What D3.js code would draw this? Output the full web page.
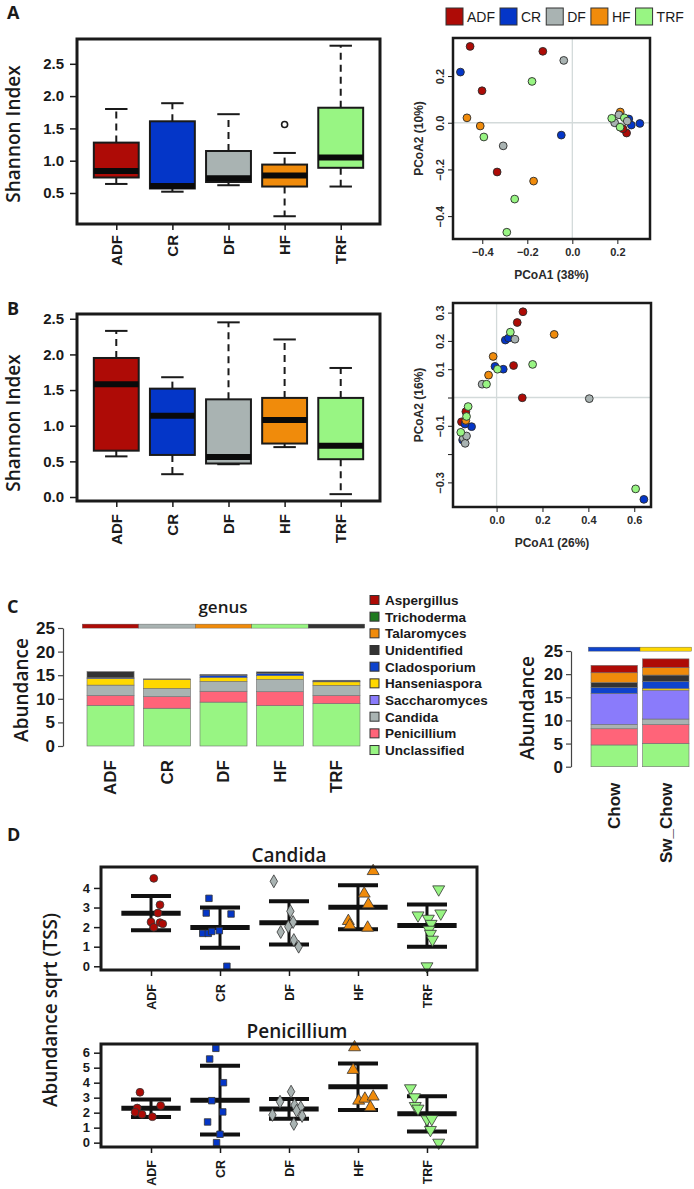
<!DOCTYPE html>
<html><head><meta charset="utf-8">
<script src="https://cdn.jsdelivr.net/npm/d3@7"></script>
<style>body{margin:0;background:#fff}svg{display:block}</style>
</head><body>
<svg id="chart" width="694" height="1189"></svg>
<script>
// ================= DATA =================
const groups = ["ADF","CR","DF","HF","TRF"];
const groupColors = ["#AE0B06","#0436C8","#A9B3B2","#F08B0B","#98F583"];

// Panel A – Shannon index (boxplot stats)
const shannonA_lower  = [0.64,0.52,0.62,0.14,0.60];
const shannonA_q1     = [0.74,0.57,0.67,0.60,0.89];
const shannonA_median = [0.84,0.61,0.73,0.77,1.05];
const shannonA_q3     = [1.28,1.61,1.15,0.94,1.82];
const shannonA_upper  = [1.80,1.89,1.72,1.12,2.78];
const shannonA_outliers = [[],[],[],[1.56],[]];
const shannonA_ticks = [0.5,1.0,1.5,2.0,2.5];

// Panel B – Shannon index
const shannonB_lower  = [0.57,0.32,0.46,0.70,0.04];
const shannonB_q1     = [0.65,0.59,0.47,0.75,0.53];
const shannonB_median = [1.58,1.14,0.56,1.08,0.72];
const shannonB_q3     = [1.95,1.52,1.37,1.39,1.39];
const shannonB_upper  = [2.33,1.68,2.45,2.21,1.81];
const shannonB_outliers = [[],[],[],[],[]];
const shannonB_ticks = [0.0,0.5,1.0,1.5,2.0,2.5];

// Panel A – PCoA (group index, PCoA1, PCoA2)
const pcoaA_group = [0,0,0,0,1,1,2,2,3,3,3,4,4,4,4, 3,2,1,1,1,0,0,2,4,4,2,4];
const pcoaA_x = [-0.454,-0.131,-0.401,-0.334,-0.497,-0.049,-0.038,-0.307,-0.468,-0.409,-0.172,-0.179,-0.393,-0.256,-0.291,
                  0.213,0.207,0.251,0.262,0.300,0.241,0.225,0.188,0.175,0.231,0.244,0.212];
const pcoaA_y = [0.327,0.306,0.137,-0.211,0.217,-0.053,0.267,-0.099,0.021,-0.014,-0.250,0.177,-0.061,-0.327,-0.469,
                  0.046,0.034,0.016,-0.010,-0.003,-0.044,-0.026,0.000,0.019,0.021,0.007,-0.019];
const pcoaA_xTicks = [-0.4,-0.2,0.0,0.2];
const pcoaA_yTicks = [-0.4,-0.2,0.0,0.2];

// Panel B – PCoA
const pcoaB_group = [0,0,0,0,0,0, 1,1,1,1,1,1,1,1, 2,2,2,2,2,2, 3,3,3,3, 4,4,4,4,4,4,4,4];
const pcoaB_x = [0.115,0.090,0.074,0.112,-0.134,-0.153,
                 0.038,0.052,-0.007,0.029,-0.109,-0.138,-0.148,0.642,
                 0.080,-0.063,0.404,-0.145,-0.137,-0.131,
                 0.251,-0.015,-0.035,-0.134,
                 0.060,0.004,-0.044,0.157,-0.124,-0.131,-0.156,0.606];
const pcoaB_y = [0.303,0.265,0.113,-0.001,-0.050,-0.086,
                 0.203,0.210,0.110,0.100,-0.103,-0.094,-0.150,-0.360,
                 0.206,0.047,-0.004,-0.144,-0.162,-0.136,
                 0.223,0.145,0.079,-0.081,
                 0.231,0.100,0.047,0.117,-0.032,-0.067,-0.123,-0.323];
const pcoaB_xTicks = [0.0,0.2,0.4,0.6];
const pcoaB_yTicks = [-0.3,-0.2,-0.1,0.0,0.1,0.2,0.3];
const pcoaB_yLabelled = [-0.3,-0.1,0.1,0.2,0.3];

// Panel C – genus abundance (legend order, top to bottom)
const genusNames  = ["Aspergillus","Trichoderma","Talaromyces","Unidentified","Cladosporium","Hanseniaspora","Saccharomyces","Candida","Penicillium","Unclassified"];
const genusColors = ["#AE0B06","#1F7A1F","#F08B0B","#333333","#0E43CC","#FFD800","#8A7BFB","#A9B3B2","#FF6479","#98F583"];
const dietSamples = ["ADF","CR","DF","HF","TRF"];
const dietAbundance = [
  [0,0,0,0,0],            // Aspergillus
  [0,0,0,0,0],            // Trichoderma
  [0,0,0,0,0],            // Talaromyces
  [1.3,0.1,0.2,0.3,0.3],  // Unidentified
  [0.15,0.02,0.45,0.5,0.03], // Cladosporium
  [1.4,1.9,0.8,0.8,0.75], // Hanseniaspora
  [0,0,0,0,0],            // Saccharomyces
  [2.2,1.75,2.1,2.6,2.15],// Candida
  [2.1,2.45,2.3,2.95,1.7],// Penicillium
  [8.6,8.0,9.3,8.55,9.0]  // Unclassified
];
const dietHeaderColors = ["#AE0B06","#A9B3B2","#F08B0B","#98F583","#333333"];
const chowSamples = ["Chow","Sw_Chow"];
const chowAbundance = [
  [1.6,1.9],   // Aspergillus
  [0,0],       // Trichoderma
  [2.1,1.6],   // Talaromyces
  [1.05,1.35], // Unidentified
  [1.3,1.55],  // Cladosporium
  [0,0.35],    // Hanseniaspora
  [6.7,6.25],  // Saccharomyces
  [0.95,1.2],  // Candida
  [3.5,4.05],  // Penicillium
  [4.7,5.05]   // Unclassified
];
const chowHeaderColors = ["#0E43CC","#FFD800"];
const abundanceTicks = [0,5,10,15,20,25];

// Panel D – sqrt(TSS) abundance per mouse, with jitter (fraction of category spacing)
const candidaValues = [
  [4.49,3.14,2.72,2.26,2.23,2.17,1.99],
  [3.47,2.72,2.67,1.68,1.68,1.78,1.82,0.0],
  [4.34,2.81,2.26,2.02,1.75,1.34,1.00],
  [4.86,3.71,3.16,2.31,2.09,1.97],
  [3.93,2.60,2.70,2.43,2.17,1.87,1.66,1.36,0.0]
];
const candidaJitter = [
  [0.04,0.13,0.10,0.0,0.13,0.17,0.04],
  [-0.16,-0.20,0.16,-0.25,-0.17,-0.12,-0.01,0.10],
  [-0.22,0.02,0.06,-0.01,-0.12,0.07,0.14],
  [0.22,0.09,0.15,-0.14,-0.12,0.14],
  [0.17,-0.13,0.20,0.02,0.06,0.03,0.05,0.08,0.0]
];
const penicilliumValues = [
  [3.36,2.47,2.31,2.03,1.89,1.73],
  [6.29,5.58,4.00,2.80,2.05,1.38,0.56,0.0],
  [3.40,2.73,2.51,2.36,2.13,1.85,1.78,1.25],
  [6.36,4.85,2.80,2.93,3.07,2.36],
  [3.63,3.03,2.45,2.27,1.56,1.58,0.85,0.0]
];
const penicilliumJitter = [
  [-0.16,0.14,-0.20,-0.23,-0.13,0.02],
  [-0.06,-0.15,0.05,-0.12,0.04,-0.18,0.0,-0.05],
  [0.03,-0.13,0.08,0.17,0.11,-0.24,0.19,0.07],
  [-0.05,-0.07,0.01,0.10,0.22,0.18],
  [-0.24,-0.18,-0.17,-0.13,0.0,0.07,0.05,0.17]
];
const candidaTicks = [0,1,2,3,4];
const penicilliumTicks = [0,1,2,3,4,5,6];

// ================= DRAWING =================
const svg = d3.select("#chart");
svg.append("rect").attr("width",694).attr("height",1189).attr("fill","#fff");
const FT = "'Liberation Sans', Arial, Helvetica, sans-serif";
const FO = "'Open Sans', 'DejaVu Sans', sans-serif";
const INK = "#1a1a1a";

function text(s, x, y, size, weight, family, anchor, rot, fill) {
  const t = svg.append("text").text(s)
    .attr("font-size", size).attr("font-weight", weight).attr("font-family", family)
    .attr("text-anchor", anchor || "start").attr("fill", fill || INK);
  if (rot) t.attr("transform", `translate(${x},${y}) rotate(${rot})`).attr("dy","0.35em");
  else t.attr("x", x).attr("y", y);
  return t;
}
function styleAxis(a, size, weight, fill, keepDomain) {
  if (!keepDomain) a.select(".domain").remove();
  a.selectAll(".tick line").attr("stroke", INK).attr("stroke-width", 1.5);
  a.selectAll("text").attr("font-family", FT).attr("font-size", size)
    .attr("font-weight", weight).attr("fill", fill || INK);
}
function rotateLabels(a, gap) {
  a.selectAll("text").attr("transform","rotate(-90)").attr("text-anchor","end")
    .attr("x",-gap).attr("y",0).attr("dy","0.35em");
}

// ---------- Boxplots ----------
function drawBoxplot(frame, yDom, ticks, lower, q1, med, q3, upper, outl, gap) {
  const g = svg.append("g");
  const x = d3.scaleLinear().domain([0.3,5.7]).range([frame.x0, frame.x1]);
  const y = d3.scaleLinear().domain(yDom).range([frame.y1, frame.y0]);
  const half = x(1.4) - x(1);
  groups.forEach((gn, i) => {
    const cx = x(i+1);
    [[q3[i], upper[i]], [q1[i], lower[i]]].forEach(([a,b]) => {
      g.append("line").attr("x1",cx).attr("x2",cx).attr("y1",y(a)).attr("y2",y(b))
        .attr("stroke",INK).attr("stroke-width",2).attr("stroke-dasharray","7,5");
      g.append("line").attr("x1",cx-half/2).attr("x2",cx+half/2).attr("y1",y(b)).attr("y2",y(b))
        .attr("stroke",INK).attr("stroke-width",2);
    });
    g.append("rect").attr("x",cx-half).attr("width",2*half)
      .attr("y",y(q3[i])).attr("height",y(q1[i])-y(q3[i]))
      .attr("fill",groupColors[i]).attr("stroke",INK).attr("stroke-width",2);
    g.append("line").attr("x1",cx-half).attr("x2",cx+half).attr("y1",y(med[i])).attr("y2",y(med[i]))
      .attr("stroke","#0a0a0a").attr("stroke-width",6);
    outl[i].forEach(v => g.append("circle").attr("cx",cx).attr("cy",y(v)).attr("r",3)
      .attr("fill","none").attr("stroke",INK).attr("stroke-width",1.6));
  });
  g.append("rect").attr("x",frame.x0).attr("y",frame.y0)
    .attr("width",frame.x1-frame.x0).attr("height",frame.y1-frame.y0)
    .attr("fill","none").attr("stroke",INK).attr("stroke-width",3);
  const ya = g.append("g").attr("transform",`translate(${frame.x0},0)`)
    .call(d3.axisLeft(y).tickValues(ticks).tickFormat(d3.format(".1f")).tickSize(7).tickPadding(6));
  styleAxis(ya, 15, "bold");
  const xa = g.append("g").attr("transform",`translate(0,${frame.y1})`)
    .call(d3.axisBottom(x).tickValues([1,2,3,4,5]).tickFormat(d => groups[d-1]).tickSize(6));
  styleAxis(xa, 15, "bold");
  rotateLabels(xa, gap);
}

drawBoxplot({x0:77,x1:380,y0:39,y1:224},[0.02,2.884],shannonA_ticks,
  shannonA_lower,shannonA_q1,shannonA_median,shannonA_q3,shannonA_upper,shannonA_outliers,11);
drawBoxplot({x0:77,x1:380,y0:314,y1:501},[-0.056,2.567],shannonB_ticks,
  shannonB_lower,shannonB_q1,shannonB_median,shannonB_q3,shannonB_upper,shannonB_outliers,13);

text("A",7,19,18,"bold",FO);
text("B",7,315,18,"bold",FO);
text("C",7,613,18,"bold",FO);
text("D",7,841,18,"bold",FO);
text("Shannon Index",13,134,19,600,FO,"middle",-90);
text("Shannon Index",13,423,19,600,FO,"middle",-90);

// ---------- PCoA ----------
function drawPcoa(frame, xDom, yDom, xTicks, yTicks, yLab, px, py, pg, xlab, ylab) {
  const g = svg.append("g");
  const x = d3.scaleLinear().domain(xDom).range([frame.x0, frame.x1]);
  const y = d3.scaleLinear().domain(yDom).range([frame.y1, frame.y0]);
  g.append("line").attr("x1",x(0)).attr("x2",x(0)).attr("y1",frame.y0).attr("y2",frame.y1)
    .attr("stroke","#d3dada").attr("stroke-width",1.3);
  g.append("line").attr("x1",frame.x0).attr("x2",frame.x1).attr("y1",y(0)).attr("y2",y(0))
    .attr("stroke","#d3dada").attr("stroke-width",1.3);
  px.forEach((v,i) => g.append("circle").attr("cx",x(v)).attr("cy",y(py[i])).attr("r",3.9)
    .attr("fill",groupColors[pg[i]]).attr("stroke","#2a2a2a").attr("stroke-width",0.9));
  g.append("rect").attr("x",frame.x0).attr("y",frame.y0)
    .attr("width",frame.x1-frame.x0).attr("height",frame.y1-frame.y0)
    .attr("fill","none").attr("stroke",INK).attr("stroke-width",2.5);
  const fmt = d3.format(".1f");
  const xa = g.append("g").attr("transform",`translate(0,${frame.y1})`)
    .call(d3.axisBottom(x).tickValues(xTicks).tickFormat(fmt).tickSize(5).tickPadding(4));
  styleAxis(xa, 11, "bold", "#2a2a2a");
  xa.selectAll(".tick line").attr("stroke-width",1);
  const ya = g.append("g").attr("transform",`translate(${frame.x0},0)`)
    .call(d3.axisLeft(y).tickValues(yTicks)
      .tickFormat(d => yLab.some(l => Math.abs(l-d) < 1e-9) ? fmt(d) : "").tickSize(5));
  styleAxis(ya, 11, "bold", "#2a2a2a");
  ya.selectAll(".tick line").attr("stroke-width",1);
  ya.selectAll("text").attr("transform","rotate(-90)").attr("text-anchor","middle")
    .attr("x",0).attr("y",-9).attr("dy",0);
  text(xlab,(frame.x0+frame.x1)/2,frame.y1+40,12,"bold",FT,"middle",null,"#2a2a2a");
  text(ylab,419,(frame.y0+frame.y1)/2,12,"bold",FT,"middle",-90,"#2a2a2a");
}
drawPcoa({x0:453,x1:650,y0:38,y1:239},[-0.530,0.345],[-0.498,0.363],pcoaA_xTicks,pcoaA_yTicks,pcoaA_yTicks,
  pcoaA_x,pcoaA_y,pcoaA_group,"PCoA1 (38%)","PCoA2 (10%)");
drawPcoa({x0:453,x1:651,y0:303,y1:507},[-0.19,0.673],[-0.387,0.334],pcoaB_xTicks,pcoaB_yTicks,pcoaB_yLabelled,
  pcoaB_x,pcoaB_y,pcoaB_group,"PCoA1 (26%)","PCoA2 (16%)");

// legend for PCoA
(function(){
  const g = svg.append("g").attr("font-family",FT).attr("font-size",14);
  let cx = 446;
  groups.forEach((gn,i) => {
    g.append("rect").attr("x",cx).attr("y",8).attr("width",17).attr("height",17)
      .attr("fill",groupColors[i]).attr("stroke","#333").attr("stroke-width",1);
    const t = g.append("text").attr("x",cx+21).attr("y",22).attr("fill",INK).text(gn);
    cx += 21 + t.node().getComputedTextLength() + 5;
  });
})();

// ---------- Stacked bars ----------
function drawStack(samples, rows, headerColors, xRange, yRange, axisX, labelGap, ylabX, ylabY) {
  const g = svg.append("g");
  const stackKeys = genusNames.slice().reverse();
  const table = samples.map((s,j) => {
    const o = {sample:s};
    genusNames.forEach((gn,k) => o[gn] = rows[k][j]);
    return o;
  });
  const series = d3.stack().keys(stackKeys)(table);
  const x = d3.scaleBand().domain(samples).range(xRange).paddingInner(samples.length > 2 ? 1/6 : 0.1).paddingOuter(0);
  const y = d3.scaleLinear().domain([0,25]).range(yRange);
  const colorOf = d3.scaleOrdinal().domain(genusNames).range(genusColors);
  series.forEach(sr => {
    g.selectAll(null).data(sr.filter(d => d[1]-d[0] > 0)).enter().append("rect")
      .attr("x", d => x(d.data.sample)).attr("width", x.bandwidth())
      .attr("y", d => y(d[1])).attr("height", d => y(d[0]) - y(d[1]))
      .attr("fill", colorOf(sr.key)).attr("stroke","#6f6f6f").attr("stroke-width",0.6);
  });
  const half = (x.step() - x.bandwidth())/2;
  samples.forEach((s,j) => {
    g.append("rect").attr("x", x(s)-half).attr("width", x.step())
      .attr("y", y(25.4)-2).attr("height", 4).attr("fill", headerColors[j])
      .attr("stroke","#555").attr("stroke-width",0.4);
  });
  const ya = g.append("g").attr("transform",`translate(${axisX},0)`)
    .call(d3.axisLeft(y).tickValues(abundanceTicks).tickSize(5).tickSizeOuter(0).tickPadding(3));
  styleAxis(ya, 17, "bold", INK, true);
  ya.select(".domain").attr("stroke","#444").attr("stroke-width",1.2);
  ya.selectAll(".tick line").attr("stroke","#444").attr("stroke-width",1.2);
  const xa = g.append("g").attr("transform",`translate(0,${yRange[0]})`)
    .call(d3.axisBottom(x).tickSize(0));
  styleAxis(xa, 17, "bold");
  rotateLabels(xa, labelGap);
  text("Abundance", ylabX, ylabY, 19, 600, FO, "middle", -90);
}
drawStack(dietSamples, dietAbundance, dietHeaderColors, [87,360], [746,628], 63, 14, 21, 690);
drawStack(chowSamples, chowAbundance, chowHeaderColors, [591,689], [766.7,651], 571, 16, 527, 708);
text("genus", 223, 613, 17, 600, FO, "middle");

// legend for genus
(function(){
  const g = svg.append("g");
  genusNames.forEach((gn,i) => {
    const cy = 600 + i*16.67;
    g.append("rect").attr("x",370).attr("y",cy-4.5).attr("width",9).attr("height",9)
      .attr("fill",genusColors[i]).attr("stroke","#333").attr("stroke-width",1);
    g.append("text").attr("x",385).attr("y",cy).attr("dy","0.36em")
      .attr("font-family",FT).attr("font-weight","bold").attr("font-size",13.5).attr("fill",INK).text(gn);
  });
})();

// ---------- Dot plots ----------
const symbolTypes = [d3.symbolCircle, d3.symbolSquare, d3.symbolDiamond, d3.symbolTriangle, d3.symbolTriangle];
const symbolSizes = [48, 42, 48, 62, 62];
function drawDot(frame, yDom, ticks, values, jitter, title, titleX, titleY, gap) {
  const g = svg.append("g");
  const x = d3.scaleLinear().domain([0.275,5.725]).range([frame.x0, frame.x1]);
  const y = d3.scaleLinear().domain(yDom).range([frame.y1, frame.y0]);
  const step = x(2) - x(1);
  groups.forEach((gn,i) => {
    const cx = x(i+1), m = d3.mean(values[i]), s = d3.deviation(values[i]);
    g.append("line").attr("x1",cx).attr("x2",cx).attr("y1",y(m-s)).attr("y2",y(m+s))
      .attr("stroke","#111").attr("stroke-width",3);
    [m-s, m+s].forEach(v => g.append("line").attr("x1",cx-0.29*step).attr("x2",cx+0.29*step)
      .attr("y1",y(v)).attr("y2",y(v)).attr("stroke","#111").attr("stroke-width",4));
    g.append("line").attr("x1",cx-0.43*step).attr("x2",cx+0.43*step).attr("y1",y(m)).attr("y2",y(m))
      .attr("stroke","#111").attr("stroke-width",5);
  });
  groups.forEach((gn,i) => {
    const sym = d3.symbol().type(symbolTypes[i]).size(symbolSizes[i]);
    values[i].forEach((v,k) => {
      g.append("path").attr("d", sym())
        .attr("transform", `translate(${x(i+1+jitter[i][k])},${y(v)})` + (i===4 ? " rotate(180)" : ""))
        .attr("fill", groupColors[i]).attr("stroke","#333").attr("stroke-width",0.8);
    });
  });
  g.append("rect").attr("x",frame.x0).attr("y",frame.y0)
    .attr("width",frame.x1-frame.x0).attr("height",frame.y1-frame.y0)
    .attr("fill","none").attr("stroke",INK).attr("stroke-width",3);
  const ya = g.append("g").attr("transform",`translate(${frame.x0},0)`)
    .call(d3.axisLeft(y).tickValues(ticks).tickFormat(d3.format("d")).tickSize(7).tickPadding(4));
  styleAxis(ya, 13, "bold");
  const xa = g.append("g").attr("transform",`translate(0,${frame.y1})`)
    .call(d3.axisBottom(x).tickValues([1,2,3,4,5]).tickFormat(d => groups[d-1]).tickSize(6));
  styleAxis(xa, 12.5, "bold");
  rotateLabels(xa, gap);
  text(title, titleX, titleY, 19, 600, FO, "middle");
}
drawDot({x0:101,x1:477,y0:867,y1:970},[-0.19,5.07],candidaTicks,candidaValues,candidaJitter,"Candida",289,862,14);
drawDot({x0:101,x1:477,y0:1044,y1:1147},[-0.29,6.58],penicilliumTicks,penicilliumValues,penicilliumJitter,"Penicillium",297,1038,13);
text("Abundance sqrt (TSS)", 50, 1010, 19, 600, FO, "middle", -90);
</script>
</body></html>
